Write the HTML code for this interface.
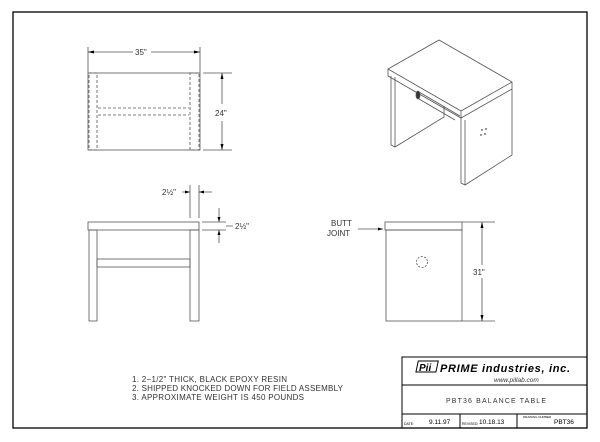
<!DOCTYPE html>
<html><head><meta charset="utf-8"><style>html,body{margin:0;padding:0;background:#fff}svg{display:block}</style></head>
<body>
<svg width="600" height="442" viewBox="0 0 600 442" xmlns="http://www.w3.org/2000/svg" font-family="Liberation Sans, sans-serif">
<g fill="none" stroke="#000">
<rect x="13" y="12" width="574" height="416" stroke-width="1.3"/>
<!-- title block -->
<path d="M402 428V357H587M402 385H587M402 414H587M460 414V428M517 414V428" stroke-width="1"/>
</g>
<g fill="none" stroke="#555" stroke-width="0.8">
<!-- top view -->
<rect x="88" y="73" width="112" height="77"/>
<g stroke-dasharray="3,2">
<rect x="89" y="73" width="8" height="77"/>
<rect x="190" y="73" width="9" height="77"/>
<path d="M98 108H189M98 115H189"/>
</g>
<path d="M88 47V73M200 47V73M88 52H133M151 52H200M203 73H232M203 150H232M222 73V104M222 121V150"/>
<!-- front view -->
<rect x="88" y="222" width="111" height="8"/>
<rect x="89" y="230" width="8" height="91"/>
<rect x="190" y="230" width="9" height="91"/>
<rect x="97" y="259" width="93" height="8"/>
<path d="M190 185V218M199 185V218M182 192H190M199 192H212M202 222H226M202 230H226M219 208V222M219 230V243M226 226H233"/>
<!-- side view -->
<rect x="385" y="222" width="77" height="8"/>
<rect x="386" y="230" width="76" height="91"/>
<path d="M462 222H495M462 321H495M482 222V265M482 278V321M358 229H383"/>
<circle cx="422" cy="262" r="5.5" stroke-dasharray="2,1.5"/>
<!-- iso -->
<path d="M388 69L439 40L512 82L461 111Z M388 69V76L461 118L512 89V82 M461 111V118"/>
<path d="M391 76V145L395 147L444 117V106 M395 77V147 M461 118V183L465 185L512 155V89 M465 120V185"/>
<path d="M419 92L460 116M419 99L455 120"/>
<ellipse cx="418" cy="95" rx="2" ry="4" fill="#333"/>
</g>
<g fill="#000">
<path d="M88 52l6-1.5v3zM200 52l-6-1.5v3zM222 73l-1.5 6h3zM222 150l-1.5-6h3zM482 222l-1.5 6h3zM482 321l-1.5-6h3zM383 229l-5-1.5v3zM190 192l-5-1.5v3zM199 192l5-1.5v3zM219 222l-1.5-5h3zM219 230l-1.5 5h3z"/>
<circle cx="482" cy="130" r=".7"/><circle cx="486" cy="129" r=".7"/><circle cx="481" cy="135" r=".7"/><circle cx="485" cy="134" r=".7"/>
</g>
<g font-size="8" fill="#333">
<text x="135" y="55">35"</text>
<text x="215" y="116">24"</text>
<text x="162" y="195">2½"</text>
<text x="235" y="229">2½"</text>
<text x="331" y="226">BUTT</text>
<text x="327" y="236">JOINT</text>
<text x="473" y="275">31"</text>
<text x="132" y="382" textLength="155">1. 2−1/2" THICK, BLACK EPOXY RESIN</text>
<text x="132" y="391" textLength="211">2. SHIPPED KNOCKED DOWN FOR FIELD ASSEMBLY</text>
<text x="132" y="400" textLength="172">3. APPROXIMATE WEIGHT IS 450 POUNDS</text>
</g>
<g fill="#000">
<rect x="416" y="361" width="20" height="11" transform="skewX(-12) translate(79 0)" fill="none" stroke="#000"/>
<text x="419" y="371" font-size="10" font-weight="bold" font-style="italic">Pii</text>
<text x="440" y="372" font-size="11" font-weight="bold" font-style="italic" textLength="130">PRIME industries, inc.</text>
<text x="494" y="382" font-size="6.5" font-style="italic" fill="#333">www.pillab.com</text>
<text x="446" y="403" font-size="7" fill="#333" textLength="100">PBT36   BALANCE  TABLE</text>
<text x="404" y="425" font-size="3.5">DATE:</text>
<text x="429" y="424" font-size="6.5">9.11.97</text>
<text x="462" y="425" font-size="3.5">REVISED:</text>
<text x="479" y="424" font-size="6.5">10.18.13</text>
<text x="523" y="418" font-size="3">DRAWING NUMBER</text>
<text x="554" y="424" font-size="6.5">PBT36</text>
</g>
</svg>
</body></html>
